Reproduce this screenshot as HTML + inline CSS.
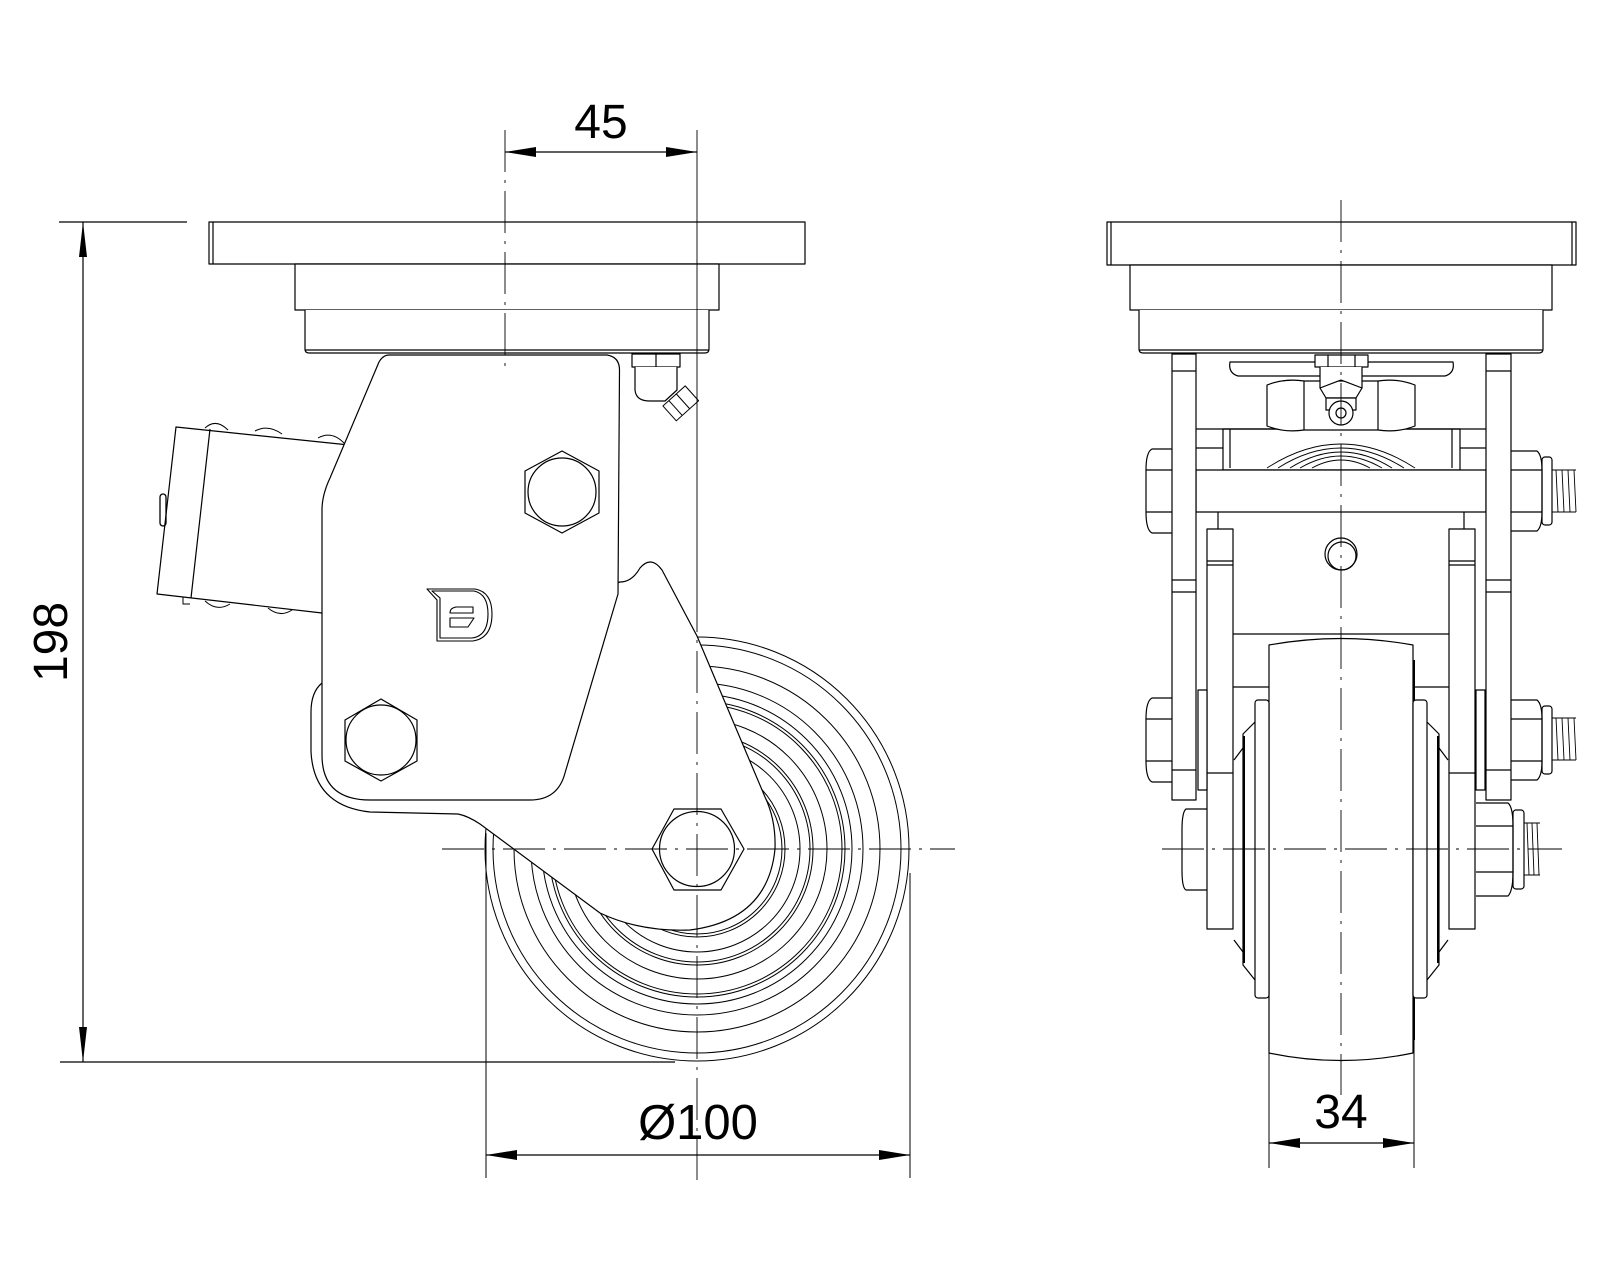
<!DOCTYPE html>
<html><head><meta charset="utf-8"><style>
html,body{margin:0;padding:0;background:#fff}
svg{display:block}
text{font-family:"Liberation Sans",sans-serif;fill:#000}
</style></head><body>
<svg width="1600" height="1280" viewBox="0 0 1600 1280" xmlns="http://www.w3.org/2000/svg">
<rect width="1600" height="1280" fill="#fff"/>
<g fill="none" stroke="#000" stroke-width="1.2" stroke-linejoin="round">

<!-- ================= LEFT VIEW ================= -->
<!-- wheel rings -->
<g stroke-width="1">
<circle cx="697" cy="849" r="212"/>
<circle cx="697" cy="849" r="204"/>
<circle cx="697" cy="849" r="183"/>
<circle cx="697" cy="849" r="166"/>
<circle cx="697" cy="849" r="155"/>
<circle cx="697" cy="849" r="148"/>
<circle cx="697" cy="849" r="145"/>
<circle cx="697" cy="849" r="130"/>
<circle cx="697" cy="849" r="116"/>
<circle cx="697" cy="849" r="113"/>
<circle cx="697" cy="849" r="103"/>
<circle cx="697" cy="849" r="88"/>
<circle cx="697" cy="849" r="85"/>
</g>

<!-- spring cylinder -->
<path d="M176 427 L349 445 L322 613 L157 594 Z" fill="#fff"/>
<line x1="210" y1="429" x2="191" y2="598"/>
<path d="M205 428 Q216 418 228 430 M255 431 Q268 424 282 434 M318 438 Q332 430 345 444" stroke-width="1"/>
<path d="M205 601 Q217 612 230 604 M268 608 Q280 618 292 610" stroke-width="1"/>
<path d="M183 597 L183 604 L190 604" stroke-width="1"/>
<rect x="160" y="494" width="6" height="32" rx="3" stroke-width="1.3"/>

<!-- lower fork plate -->
<path d="M322 683 Q311 692 311 712 L311 752 Q314 806 370 812 L458 814 Q468 816 480 824 L600 913 Q640 932 690 930 Q768 920 775 849 Q776 820 765 797 L697 636 L662 570 Q651 555 640 568 Q632 582 620 582 Z" fill="#fff"/>
<!-- main bracket -->
<path d="M389 355 Q383 355 379 362 L330 478 Q322 495 322 510 L322 755 Q322 800 370 800 L530 800 Q558 800 565 773 L618 594 L619.5 370 Q619.5 357 607 355 Z" fill="#fff"/>

<!-- hex bolts -->
<polygon points="562,451 599,471 599,513 562,533 525,513 525,471" fill="#fff"/>
<circle cx="562" cy="492" r="34"/>
<polygon points="381,699 417,720 417,761 381,781 345,761 345,720" fill="#fff"/>
<circle cx="381" cy="740" r="35"/>
<polygon points="652,849 674,809 721,809 744,849 721,890 674,890" fill="#fff"/>
<circle cx="697" cy="849" r="37.5"/>

<!-- logo -->
<path d="M427 589 L475 589 Q492 592 492 614 Q492 638 473 641 L437 641 L437 600 Z" stroke-width="1.1"/>
<path d="M432 591 L474 591 Q488 594 488 614 Q488 636 472 638 L440 638 L440 598 Z" stroke-width="1.1"/>
<path d="M473 607 L456 607 Q450 608 450 613 L473 613 Z" stroke-width="1.1"/>
<path d="M450 618 L474 618 L468 627 L450 627 Z" stroke-width="1.1"/>

<!-- grease nipple -->
<rect x="632" y="354" width="48" height="13" fill="#fff"/>
<line x1="656" y1="354" x2="656" y2="367"/>
<path d="M635 367 L635 390 Q636 401 650 401 L665 401 L677 390 L677 367" fill="#fff"/>
<g transform="translate(680,404) rotate(-42)">
<rect x="-14" y="-10" width="30" height="20" fill="#fff" stroke-width="1"/>
<line x1="-6" y1="-10" x2="-6" y2="10" stroke-width="1"/>
<line x1="4" y1="-10" x2="4" y2="10" stroke-width="1"/>
</g>

<!-- top plate (left) -->
<rect x="209" y="222" width="596" height="42" fill="#fff"/>
<line x1="213" y1="222" x2="213" y2="264"/>
<rect x="295" y="264" width="424" height="46" fill="#fff"/>
<path d="M305 310 L305 349 Q305 353 309 353 L705 353 Q709 353 709 349 L709 310" fill="#fff"/>
<line x1="305" y1="350" x2="709" y2="350"/>

<!-- ================= RIGHT VIEW ================= -->
<!-- tyre -->
<path d="M1269 645 Q1341 632 1413 645 L1413 1053 Q1341 1068 1269 1053 Z" fill="#fff"/>
<line x1="1414" y1="660" x2="1414" y2="1040" stroke-width="2"/>
<!-- hub flanges -->
<rect x="1255" y="700" width="14" height="298" rx="3" fill="#fff"/>
<rect x="1413" y="700" width="14" height="298" rx="3" fill="#fff"/>
<path d="M1255 722 L1243 734 L1243 965 L1255 980" />
<path d="M1427 722 L1439 734 L1439 965 L1427 980" />
<line x1="1244" y1="736" x2="1244" y2="963" stroke-width="2"/>
<line x1="1438" y1="736" x2="1438" y2="963" stroke-width="2"/>
<path d="M1234 760 L1243 748 M1234 940 L1243 952 M1448 760 L1439 748 M1448 940 L1439 952"/>

<!-- inner fork plates -->
<rect x="1207" y="529" width="26" height="400" fill="#fff"/>
<rect x="1449" y="529" width="26" height="400" fill="#fff"/>
<line x1="1207" y1="561" x2="1233" y2="561"/><line x1="1207" y1="565" x2="1233" y2="565"/>
<line x1="1449" y1="561" x2="1475" y2="561"/><line x1="1449" y1="565" x2="1475" y2="565"/>
<line x1="1207" y1="773" x2="1233" y2="773"/><line x1="1449" y1="773" x2="1475" y2="773"/>
<line x1="1233" y1="634" x2="1449" y2="634"/>
<line x1="1233" y1="687" x2="1269" y2="687"/><line x1="1413" y1="687" x2="1449" y2="687"/>
<line x1="1218" y1="512" x2="1218" y2="529"/><line x1="1464" y1="512" x2="1464" y2="529"/>
<!-- spacers -->
<rect x="1198" y="690" width="9" height="100" fill="#fff"/>
<rect x="1476" y="690" width="9" height="100" fill="#fff"/>

<!-- top internals -->
<rect x="1223" y="429" width="237" height="41" fill="#fff"/>
<line x1="1230" y1="429" x2="1230" y2="468"/><line x1="1452" y1="429" x2="1452" y2="468"/>
<line x1="1196" y1="429" x2="1486" y2="429"/>
<line x1="1196" y1="448" x2="1223" y2="448"/><line x1="1460" y1="448" x2="1486" y2="448"/>
<g stroke-width="0.9">
<path d="M1267 468 Q1341 420 1415 468"/>
<path d="M1278 468 Q1341 428 1404 468"/>
<path d="M1290 468 Q1341 436 1392 468"/>
<path d="M1300 468 Q1341 444 1382 468"/>
<path d="M1312 468 Q1341 452 1370 468"/>
</g>
<path d="M1267 385 L1267 426 Q1285 433 1304 430 L1378 430 Q1397 433 1415 426 L1415 385 Q1397 378 1378 381 L1304 381 Q1285 378 1267 385 Z" fill="#fff"/>
<line x1="1304" y1="381" x2="1304" y2="430"/><line x1="1378" y1="381" x2="1378" y2="430"/>
<path d="M1230 362 L1453 362 Q1455 373 1445 376 L1238 376 Q1228 373 1230 362 Z" fill="#fff"/>
<rect x="1315" y="355" width="53" height="12" fill="#fff"/>
<line x1="1328" y1="355" x2="1328" y2="367"/><line x1="1355" y1="355" x2="1355" y2="367"/>
<path d="M1320 367 L1320 388 L1341 380 L1362 388 L1362 367" fill="#fff"/>
<path d="M1320 388 L1326 398 L1356 398 L1362 388"/>
<rect x="1326" y="398" width="30" height="12" fill="#fff"/>
<circle cx="1341" cy="413" r="12" fill="#fff"/>
<circle cx="1341" cy="413" r="5"/>

<!-- top bar -->
<rect x="1196" y="470" width="290" height="42" fill="#fff"/>
<!-- pin -->
<circle cx="1341" cy="554" r="16"/>
<circle cx="1342" cy="556" r="14"/>

<!-- outer fork plates -->
<rect x="1172" y="354" width="24" height="446" fill="#fff"/>
<rect x="1486" y="354" width="25" height="446" fill="#fff"/>
<line x1="1172" y1="580" x2="1196" y2="580"/><line x1="1172" y1="592" x2="1196" y2="592"/>
<line x1="1486" y1="580" x2="1511" y2="580"/><line x1="1486" y1="592" x2="1511" y2="592"/>
<line x1="1172" y1="770" x2="1196" y2="770"/><line x1="1486" y1="770" x2="1511" y2="770"/>
<line x1="1172" y1="371" x2="1196" y2="371"/><line x1="1486" y1="371" x2="1511" y2="371"/>

<!-- left bolt heads -->
<path d="M1172 449 L1152 449 Q1146 452 1146 470 L1146 512 Q1146 530 1152 533 L1172 533"/>
<line x1="1146" y1="470" x2="1172" y2="470"/><line x1="1146" y1="512" x2="1172" y2="512"/>
<path d="M1172 698 L1152 698 Q1146 701 1146 719 L1146 761 Q1146 779 1152 782 L1172 782"/>
<line x1="1146" y1="719" x2="1172" y2="719"/><line x1="1146" y1="761" x2="1172" y2="761"/>
<path d="M1207 809 L1186 809 Q1182 812 1182 830 L1182 870 Q1182 888 1186 890 L1207 890"/>
<!-- right nuts -->
<path d="M1511 451 L1537 451 Q1542 455 1542 470 L1542 512 Q1542 527 1537 531 L1511 531"/>
<line x1="1511" y1="470" x2="1542" y2="470"/><line x1="1511" y1="512" x2="1542" y2="512"/>
<rect x="1542" y="457" width="10" height="68" rx="3"/>
<path d="M1552 470 L1576 470 M1552 512 L1576 512 M1556 470 L1558 512 M1562 470 L1564 512 M1568 470 L1570 512 M1574 470 L1576 512" stroke-width="0.9"/>
<path d="M1511 700 L1537 700 Q1542 704 1542 719 L1542 761 Q1542 776 1537 780 L1511 780"/>
<line x1="1511" y1="719" x2="1542" y2="719"/><line x1="1511" y1="761" x2="1542" y2="761"/>
<rect x="1542" y="706" width="10" height="68" rx="3"/>
<path d="M1552 718 L1576 718 M1552 760 L1576 760 M1556 718 L1558 760 M1562 718 L1564 760 M1568 718 L1570 760 M1574 718 L1576 760" stroke-width="0.9"/>
<path d="M1476 803 L1508 803 Q1513 807 1513 826 L1513 872 Q1513 891 1508 896 L1476 896"/>
<line x1="1476" y1="826" x2="1513" y2="826"/><line x1="1476" y1="872" x2="1513" y2="872"/>
<rect x="1513" y="810" width="11" height="79" rx="3"/>
<path d="M1524 823 L1540 823 M1524 875 L1540 875 M1527 823 L1529 875 M1532 823 L1534 875 M1537 823 L1539 875" stroke-width="0.9"/>

<!-- top plate (right) -->
<rect x="1107" y="222" width="469" height="43" fill="#fff"/>
<line x1="1111" y1="222" x2="1111" y2="265"/><line x1="1572" y1="222" x2="1572" y2="265"/>
<rect x="1130" y="265" width="422" height="45" fill="#fff"/>
<path d="M1139 310 L1139 349 Q1139 353 1143 353 L1539 353 Q1543 353 1543 349 L1543 310" fill="#fff"/>
<line x1="1139" y1="350" x2="1543" y2="350"/>

<!-- ================= CENTERLINES ================= -->
<g stroke-width="0.9" stroke-dasharray="42 8 3 8">
<line x1="505" y1="130" x2="505" y2="368"/>
<line x1="442" y1="849" x2="955" y2="849"/>
<line x1="697" y1="590" x2="697" y2="1180"/>
<line x1="1341" y1="200" x2="1341" y2="1095"/>
<line x1="1162" y1="849" x2="1562" y2="849"/>
</g>
<line x1="697" y1="130" x2="697" y2="590" stroke-width="0.9"/>

<!-- ================= DIMENSIONS ================= -->
<g stroke-width="1.2">
<!-- 198 -->
<line x1="59" y1="222" x2="187" y2="222"/>
<line x1="60" y1="1062" x2="675" y2="1062"/>
<line x1="83" y1="222" x2="83" y2="1062"/>
<!-- 45 -->
<line x1="505" y1="152" x2="697" y2="152"/>
<!-- 100 -->
<line x1="486" y1="833" x2="486" y2="1178" stroke-width="1"/>
<line x1="910" y1="873" x2="910" y2="1178" stroke-width="1"/>
<line x1="486" y1="1155" x2="910" y2="1155"/>
<!-- 34 -->
<line x1="1269" y1="1053" x2="1269" y2="1168" stroke-width="1"/>
<line x1="1414" y1="1040" x2="1414" y2="1168" stroke-width="1"/>
<line x1="1269" y1="1143" x2="1414" y2="1143"/>
</g>
</g>
<g fill="#000">
<polygon points="83,222 79,257 87,257"/>
<polygon points="83,1062 79,1027 87,1027"/>
<polygon points="505,152 536,147 536,157"/>
<polygon points="697,152 666,147 666,157"/>
<polygon points="486,1155 517,1150 517,1160"/>
<polygon points="910,1155 879,1150 879,1160"/>
<polygon points="1269,1143 1300,1138 1300,1148"/>
<polygon points="1414,1143 1383,1138 1383,1148"/>
</g>
<text x="601" y="138" font-size="48" text-anchor="middle">45</text>
<text x="698" y="1139" font-size="49" text-anchor="middle">Ø100</text>
<text x="1341" y="1128" font-size="48" text-anchor="middle">34</text>
<text transform="translate(67,642) rotate(-90)" font-size="48" text-anchor="middle">198</text>
</svg>
</body></html>
